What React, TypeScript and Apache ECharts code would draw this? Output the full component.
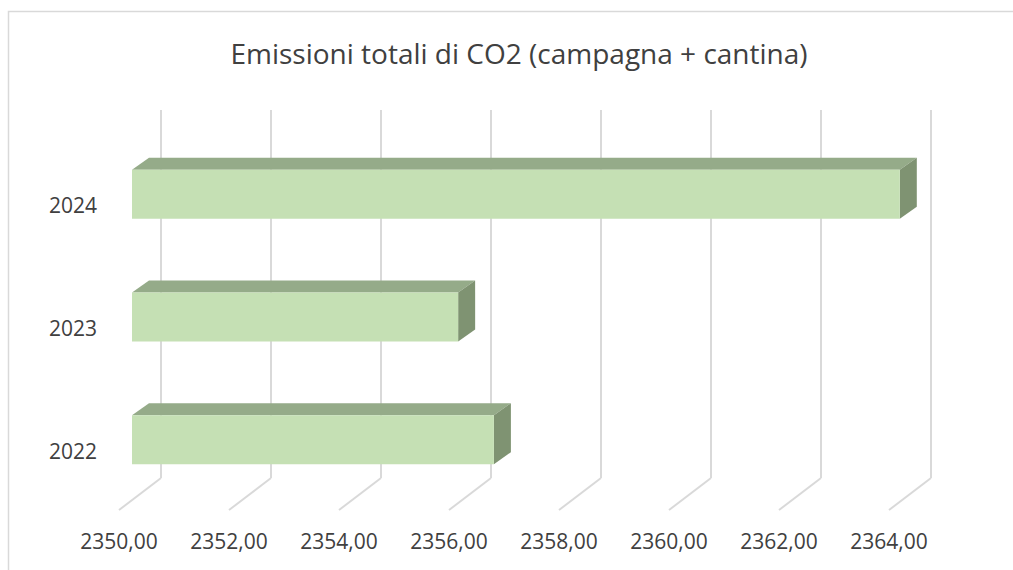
import React, { useEffect, useRef } from "react";
import * as echarts from "echarts";

const categories = ["2022", "2023", "2024"];
const values = [2356.58, 2355.93, 2363.96];
const xTicks = [2350, 2352, 2354, 2356, 2358, 2360, 2362, 2364];
const xMin = 2350;
const xMax = 2364;
const xStep = 2;
const titleText = "Emissioni totali di CO2 (campagna + cantina)";

const FONT = "'Open Sans', sans-serif";
const GRID_COLOR = "#D9D9D9";
const DEPTH_X = 42;
const DEPTH_Y = 32;

const fmt = (v: number) => v.toFixed(2).replace(".", ",");

export default function App() {
  const ref = useRef<HTMLDivElement>(null);
  useEffect(() => {
    if (!ref.current) return;
    const chart = echarts.init(ref.current, undefined, { renderer: "svg" });
    const option: any = {
      animation: false,
      backgroundColor: "#ffffff",
      title: {
        text: titleText,
        left: 514,
        textAlign: "center",
        top: 34,
        textStyle: { fontFamily: FONT, fontSize: 28, fontWeight: "normal", color: "#404040" },
      },
      graphic: [
        {
          type: "polyline",
          shape: { points: [[8.5, 570], [8.5, 11.5], [1013, 11.5]] },
          style: { stroke: GRID_COLOR, lineWidth: 1.5, fill: "none" },
          silent: true,
        },
      ],
      grid: [
        { left: 161, top: 110, width: 770, height: 368 },
        { left: 119, top: 144, width: 770, height: 368 },
      ],
      xAxis: [
        {
          type: "value",
          gridIndex: 0,
          min: xMin,
          max: xMax,
          interval: xStep,
          axisLine: { show: false },
          axisTick: { show: false },
          axisLabel: { show: false },
          splitLine: { show: true, lineStyle: { color: GRID_COLOR, width: 2 } },
        },
        {
          type: "value",
          gridIndex: 1,
          min: xMin,
          max: xMax,
          interval: xStep,
          axisLine: { show: false },
          axisTick: { show: false },
          splitLine: { show: false },
          axisLabel: {
            margin: 18,
            fontFamily: FONT,
            fontSize: 21,
            color: "#404040",
            formatter: (v: number) => fmt(v),
          },
        },
      ],
      yAxis: [
        {
          type: "category",
          gridIndex: 0,
          data: categories,
          axisLine: { show: false },
          axisTick: { show: false },
          axisLabel: { show: false },
          splitLine: { show: false },
        },
        {
          type: "category",
          gridIndex: 1,
          data: categories,
          axisLine: { show: false },
          axisTick: { show: false },
          splitLine: { show: false },
          axisLabel: { margin: 22, fontFamily: FONT, fontSize: 21, color: "#404040" },
        },
      ],
      series: [
        {
          type: "custom",
          xAxisIndex: 0,
          yAxisIndex: 0,
          silent: true,
          clip: false,
          data: xTicks.map((v) => [v, 0]),
          encode: { x: 0, y: 1 },
          renderItem: (params: any, api: any) => {
            const p = api.coord([api.value(0), 0]);
            const bottom = params.coordSys.y + params.coordSys.height;
            return {
              type: "line",
              shape: { x1: p[0], y1: bottom, x2: p[0] - DEPTH_X, y2: bottom + DEPTH_Y },
              style: { stroke: GRID_COLOR, lineWidth: 2 },
            };
          },
        },
        {
          type: "custom",
          xAxisIndex: 0,
          yAxisIndex: 0,
          silent: true,
          clip: false,
          data: values.map((v, i) => [v, i]),
          encode: { x: 0, y: 1 },
          renderItem: (params: any, api: any) => {
            const p = api.coord([api.value(0), api.value(1)]);
            const p0 = api.coord([xMin, api.value(1)]);
            const fx = -29;
            const fy = 23;
            const h = 49;
            const dx = 17;
            const dy = 12;
            const x0 = p0[0] + fx;
            const x1 = p[0] + fx;
            const yc = p[1] + fy;
            const yt = yc - h / 2;
            const yb = yc + h / 2;
            return {
              type: "group",
              children: [
                {
                  type: "polygon",
                  shape: { points: [[x0, yt], [x1, yt], [x1 + dx, yt - dy], [x0 + dx, yt - dy]] },
                  style: { fill: "#95AB89" },
                },
                {
                  type: "polygon",
                  shape: { points: [[x1, yt], [x1 + dx, yt - dy], [x1 + dx, yb - dy], [x1, yb]] },
                  style: { fill: "#7F9372" },
                },
                {
                  type: "rect",
                  shape: { x: x0, y: yt, width: x1 - x0, height: h },
                  style: { fill: "#C5E0B4" },
                },
              ],
            };
          },
        },
      ],
    };
    chart.setOption(option);
    return () => chart.dispose();
  }, []);
  return (
    <div
      ref={ref}
      style={{ position: "fixed", left: 0, top: 0, width: 1013, height: 570 }}
    />
  );
}
